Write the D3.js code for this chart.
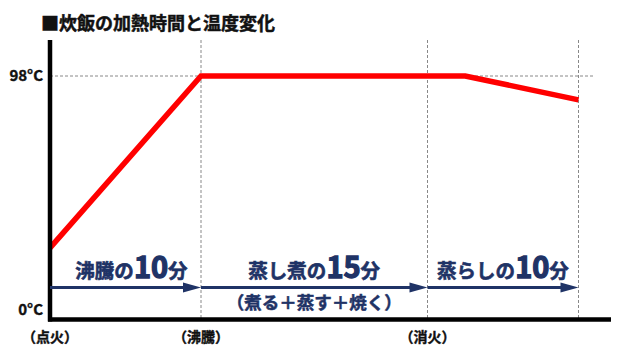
<!DOCTYPE html>
<html><head><meta charset="utf-8">
<script src="https://cdn.jsdelivr.net/npm/d3@7"></script>
<style>
body{margin:0;background:#fff;}
text{font-family:"Noto Sans CJK JP","Noto Sans",sans-serif;}
</style></head>
<body><svg id="c" width="640" height="360"></svg>
<script>
// Data
const times = [0, 10, 27.5, 35];          // minutes
const temps = [26, 98, 98, 88];           // °C
const yTicks = [0, 98];
const yTickLabels = ["0°C", "98°C"];
const xMarks = [0, 10, 25];
const xMarkLabels = ["（点火）", "（沸騰）", "（消火）"];
const vGrid = [10, 25, 35];
const phaseStart = [0, 10, 25];
const phaseEnd = [10, 25, 35];
const phaseName = ["沸騰の", "蒸し煮の", "蒸らしの"];
const phaseMin = ["10", "15", "10"];
const phaseSub = ["", "（煮る＋蒸す＋焼く）", ""];
const title = "■炊飯の加熱時間と温度変化";

const svg = d3.select("#c");
const x = d3.scaleLinear().domain([0, 35]).range([50, 578.5]);
const y = d3.scaleLinear().domain([0, 98]).range([310, 76]);
const navy = "#1f3366";

// title
svg.append("text").attr("x", 41).attr("y", 30).attr("font-size", 18).attr("font-weight", 700)
  .attr("fill", "#111").attr("stroke", "#111").attr("stroke-width", 0.5).text(title);

// horizontal gridline at 98
svg.append("line").attr("x1", x(0)).attr("x2", 593).attr("y1", y(98)).attr("y2", y(98))
  .attr("stroke", "#888").attr("stroke-width", 1).attr("stroke-dasharray", "3,2");
// vertical gridlines
svg.selectAll("line.vg").data(vGrid).join("line").attr("class", "vg")
  .attr("x1", d => x(d)).attr("x2", d => x(d)).attr("y1", 40).attr("y2", 318)
  .attr("stroke", "#888").attr("stroke-width", 1).attr("stroke-dasharray", "3,2");

// y tick labels
svg.selectAll("text.yt").data(yTicks).join("text").attr("class", "yt")
  .attr("x", 43).attr("y", d => y(d)).attr("dy", "0.36em").attr("text-anchor", "end")
  .attr("font-size", 15).attr("font-weight", 700).attr("fill", "#111")
  .attr("stroke", "#111").attr("stroke-width", 0.4)
  .text((d, i) => yTickLabels[i]);

// x mark labels
svg.selectAll("text.xt").data(xMarks).join("text").attr("class", "xt")
  .attr("x", d => x(d)).attr("y", 342).attr("text-anchor", "middle")
  .attr("font-size", 14).attr("font-weight", 700).attr("fill", "#111")
  .attr("stroke", "#111").attr("stroke-width", 0.4)
  .text((d, i) => xMarkLabels[i]);

// temperature line
const pts = times.map((t, i) => [t, temps[i]]);
svg.append("path").datum(pts)
  .attr("d", d3.line().x(d => x(d[0])).y(d => y(d[1])))
  .attr("fill", "none").attr("stroke", "#f00").attr("stroke-width", 5.5)
  .attr("stroke-linejoin", "miter");

// axes
svg.append("line").attr("x1", 50).attr("x2", 50).attr("y1", 40).attr("y2", 321.5)
  .attr("stroke", "#000").attr("stroke-width", 4.5);
svg.append("line").attr("x1", 48).attr("x2", 611).attr("y1", 319.5).attr("y2", 319.5)
  .attr("stroke", "#000").attr("stroke-width", 4.5);

// phase arrows
const ay = 287.5;
phaseStart.forEach((s, i) => {
  const x0 = x(s), x1 = x(phaseEnd[i]);
  svg.append("line").attr("x1", x0).attr("x2", x1 - 10).attr("y1", ay).attr("y2", ay)
    .attr("stroke", navy).attr("stroke-width", 3);
  svg.append("path").attr("d", `M${x1},${ay} L${x1 - 18},${ay - 5} L${x1 - 18},${ay + 5} Z`)
    .attr("fill", navy);
  const cx = (x0 + x1) / 2 + (i === 0 ? 6 : 0);
  const t = svg.append("text").attr("x", cx).attr("y", 278).attr("text-anchor", "middle")
    .attr("fill", navy).attr("stroke", navy).attr("font-weight", 700);
  t.append("tspan").attr("font-size", 19.5).attr("stroke-width", 0.6).text(phaseName[i]);
  t.append("tspan").attr("font-size", 29).attr("stroke-width", 1.3).text(phaseMin[i]);
  t.append("tspan").attr("font-size", 19.5).attr("stroke-width", 0.6).text("分");
  if (phaseSub[i]) {
    svg.append("text").attr("x", cx).attr("y", 309).attr("text-anchor", "middle")
      .attr("fill", navy).attr("stroke", navy).attr("stroke-width", 0.5)
      .attr("font-weight", 700).attr("font-size", 17.5).text(phaseSub[i]);
  }
});
</script></body></html>
